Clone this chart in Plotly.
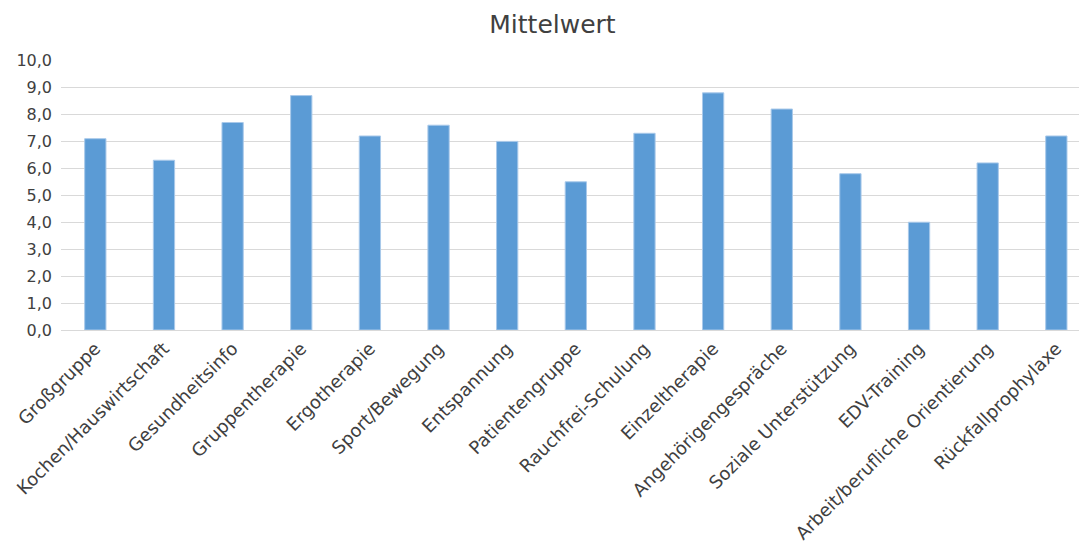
import plotly.graph_objects as go

categories = ["Großgruppe", "Kochen/Hauswirtschaft", "Gesundheitsinfo", "Gruppentherapie",
              "Ergotherapie", "Sport/Bewegung", "Entspannung", "Patientengruppe",
              "Rauchfrei-Schulung", "Einzeltherapie", "Angehörigengespräche",
              "Soziale Unterstützung", "EDV-Training", "Arbeit/berufliche Orientierung",
              "Rückfallprophylaxe"]
values = [7.1, 6.3, 7.7, 8.7, 7.2, 7.6, 7.0, 5.5, 7.3, 8.8, 8.2, 5.8, 4.0, 6.2, 7.2]
y_ticks = [0, 1, 2, 3, 4, 5, 6, 7, 8, 9, 10]

fig = go.Figure(go.Bar(
    x=list(range(len(categories))), y=values,
    marker=dict(color="#5B9BD5", line=dict(color="#A9C9EA", width=1)),
))

fig.update_layout(
    width=1079, height=547,
    paper_bgcolor="white", plot_bgcolor="white",
    margin=dict(l=61, r=0, t=60, b=217, autoexpand=False),
    separators=",.",
    bargap=0.69,
    showlegend=False,
    title=dict(text="Mittelwert", x=0.512, xanchor="center", y=0.955, yanchor="middle",
               font=dict(family="DejaVu Sans", size=25, color="#404040")),
    font=dict(family="DejaVu Sans", color="#404040"),
)
fig.update_xaxes(
    tickmode="array", tickvals=list(range(len(categories))), ticktext=categories,
    tickangle=-45, tickfont=dict(size=18, color="#404040"),
    range=[-0.5, 14.33], showgrid=False, showline=True, linecolor="#D9D9D9", linewidth=1,
    ticks="", automargin=False,
)
fig.update_yaxes(
    range=[0, 10.02], tickmode="array", tickvals=y_ticks, tickformat=".1f",
    tickfont=dict(size=16, color="#404040"),
    showgrid=True, gridcolor="#D9D9D9", gridwidth=1, zeroline=False,
    ticks="", ticklabelstandoff=8, automargin=False,
)

fig.write_html("out.html")
